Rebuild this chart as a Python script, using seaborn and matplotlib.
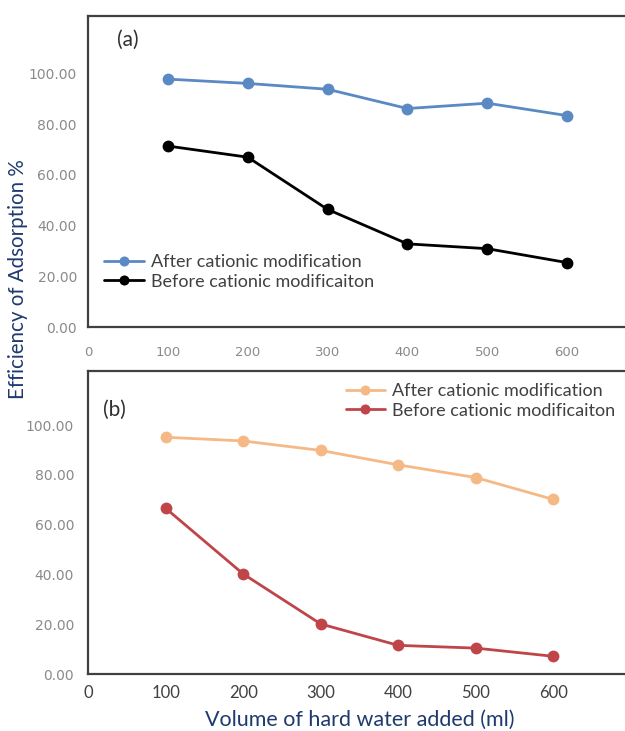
import matplotlib
matplotlib.use("Agg")
import matplotlib.pyplot as plt
import seaborn as sns
import pandas as pd

# Hard-water volumes (ml) and adsorption efficiencies (%)
volumes = [100, 200, 300, 400, 500, 600]
series_names = ["After cationic modification", "Before cationic modificaiton"]

a_after = [97.8, 96.1, 93.8, 86.2, 88.3, 83.4]
a_before = [71.4, 67.0, 46.4, 32.8, 30.9, 25.4]

b_after = [95.1, 93.6, 89.8, 84.0, 78.9, 70.1]
b_before = [66.6, 40.2, 20.1, 11.5, 10.4, 7.1]

x_ticks = [0, 100, 200, 300, 400, 500, 600]
y_ticks = [0, 20, 40, 60, 80, 100]
y_tick_labels = ["0.00", "20.00", "40.00", "60.00", "80.00", "100.00"]


def long_frame(after, before):
    return pd.DataFrame({
        "volume": volumes * 2,
        "efficiency": after + before,
        "series": [series_names[0]] * len(volumes) + [series_names[1]] * len(volumes),
    })


sns.set_theme(style="white")
plt.rcParams["font.family"] = ["Lato", "DejaVu Sans"]

W, H = 625, 731
fig = plt.figure(figsize=(W / 100, H / 100), dpi=100)


def px_axes(left, top, right, bottom):
    return fig.add_axes([left / W, 1 - bottom / H, (right - left) / W, (bottom - top) / H])


spine_color = "#404040"

# ---- panel (a) ----
ax_a = px_axes(88, 16, 647, 327)
sns.lineplot(data=long_frame(a_after, a_before), x="volume", y="efficiency",
             hue="series", hue_order=series_names,
             palette=["#5a89c4", "#000000"], marker="o", markersize=8.5,
             markeredgewidth=0, linewidth=2.0, ax=ax_a)
ax_a.set_ylim(0, 122.7)
ax_a.set_xlim(0, 700)

# ---- panel (b) ----
ax_b = px_axes(88, 371, 631, 674)
sns.lineplot(data=long_frame(b_after, b_before), x="volume", y="efficiency",
             hue="series", hue_order=series_names,
             palette=["#f5b986", "#bf4549"], marker="o", markersize=8.5,
             markeredgewidth=0, linewidth=2.0, ax=ax_b)
ax_b.set_ylim(0, 121.7)
ax_b.set_xlim(0, 700)

for ax in (ax_a, ax_b):
    ax.set_xticks(x_ticks)
    ax.set_yticks(y_ticks)
    ax.set_yticklabels(y_tick_labels, color="#8a8a8a", fontsize=10,
                       family=["DejaVu Sans"])
    ax.set_xlabel("")
    ax.set_ylabel("")
    ax.tick_params(length=0)
    for side in ("left", "bottom", "top", "right"):
        ax.spines[side].set_color(spine_color)
        ax.spines[side].set_linewidth(1.6)

ax_a.set_xticklabels([str(v) for v in x_ticks], color="#8a8a8a", fontsize=9.5,
                     family=["DejaVu Sans"])
ax_a.tick_params(axis="x", pad=14)
ax_a.tick_params(axis="y", pad=8)
ax_b.set_xticklabels([str(v) for v in x_ticks], color="#404040", fontsize=12)
ax_b.tick_params(axis="x", pad=8)
ax_b.tick_params(axis="y", pad=10)

# legends
legend_style = dict(bbox_transform=fig.transFigure, frameon=False, fontsize=13,
                    handlelength=2.2, handletextpad=0.4, labelspacing=0.2,
                    borderpad=0, borderaxespad=0, markerscale=0.85)
leg_a = ax_a.legend(loc="center left", bbox_to_anchor=(107 / W - 0.004, 1 - 272 / H),
                    **legend_style)
leg_b = ax_b.legend(loc="center left", bbox_to_anchor=(348 / W - 0.004, 1 - 401 / H),
                    **legend_style)
for leg in (leg_a, leg_b):
    for t in leg.get_texts():
        t.set_color("#404040")

# panel tags
fig.text(117 / W, 1 - 40 / H, "(a)", fontsize=15, color="#303030", va="center", ha="left")
fig.text(103 / W, 1 - 410 / H, "(b)", fontsize=15, color="#303030", va="center", ha="left")

# shared axis titles
title_color = "#1f3a6e"
fig.text(18 / W, 1 - 279 / H, "Efficiency of Adsorption %", rotation=90,
         fontsize=14.8, color=title_color, va="center", ha="center")
fig.text(360 / W, 1 - 720 / H, "Volume of hard water added (ml)",
         fontsize=15.5, color=title_color, va="center", ha="center")

fig.savefig("out.png", dpi=100)
